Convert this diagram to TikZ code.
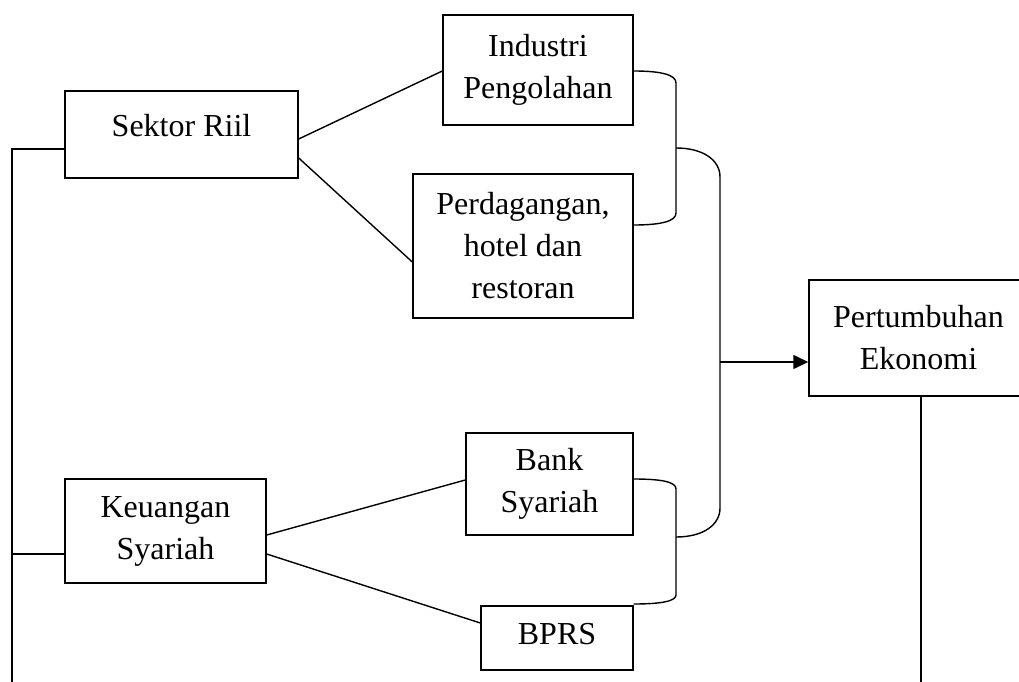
\documentclass[tikz,border=0pt]{standalone}
\usepackage{fontspec}
\setmainfont{Liberation Serif}
\usetikzlibrary{arrows.meta,calc}
\begin{document}
\begin{tikzpicture}[x=1pt,y=-1pt,
  box/.style={draw, line width=1.4pt, align=center, inner sep=0pt, font=\fontsize{32}{42}\selectfont},
  conn/.style={line width=1.4pt},
  arr/.style={line width=1.4pt, -{Triangle[length=15pt,width=14pt]}}]
\useasboundingbox (0,0) rectangle (1019,682);
\clip (0,0) rectangle (1019,682);
\node[box, minimum width=233pt, minimum height=87pt] (sr) at (181.5,134.5) {\raisebox{19pt}{Sektor Riil}};
\node[box, minimum width=190pt, minimum height=110pt] (ip) at (538,70) {Industri\\Pengolahan};
\node[box, minimum width=220pt, minimum height=144pt] (ph) at (523,246) {Perdagangan,\\hotel dan\\restoran};
\node[box, minimum width=219pt, minimum height=116pt] (pe) at (918.5,338) {Pertumbuhan\\Ekonomi};
\node[box, minimum width=201pt, minimum height=104pt] (ks) at (165.5,531) {Keuangan\\Syariah};
\node[box, minimum width=167pt, minimum height=102pt] (bs) at (549.5,484) {Bank\\Syariah};
\node[box, minimum width=152pt, minimum height=64pt] (bp) at (557,638) {\raisebox{8pt}{BPRS}};
% branches
\draw[conn] ([yshift=-4.5pt]sr.east) -- ([yshift=-1pt]ip.west);
\draw[conn] ([yshift=-23.5pt]sr.east) -- ([yshift=-16pt]ph.west);
\draw[conn] ([yshift=-4pt]ks.east) -- ([yshift=4pt]bs.west);
\draw[conn] ([yshift=-23pt]ks.east) -- ([yshift=15pt]bp.west);
% junctions
\coordinate (j1) at (676,148);
\coordinate (j2) at (676,537);
\coordinate (j3) at (720,362);
% brackets
\draw[conn] ([yshift=-1pt]ip.east) .. controls (662,71) and (676,75) .. (676,83) -- (676,213) .. controls (676,221) and (662,225) .. ([yshift=21pt]ph.east);
\draw[conn] ([yshift=5pt]bs.east) .. controls (662,479) and (676,482) .. (676,489) -- (676,595) .. controls (676,601) and (662,604) .. ([yshift=34pt]bp.east);
\draw[conn] (j1) .. controls (703,148) and (720,160) .. (720,177) -- (720,508) .. controls (720,525) and (703,537) .. (j2);
\draw[arr] (j3) -- (j3 -| pe.west);
% outer lines
\coordinate (l1) at (12,149);
\coordinate (l2) at (12,554);
\coordinate (l3) at (12,690);
\draw[conn] ([yshift=-14.5pt]sr.west) -- (l1) -- (l3);
\draw[conn] (l2) -- ([yshift=-23pt]ks.west);
\coordinate (r1) at (921,690);
\draw[conn] ([xshift=2.5pt]pe.south) -- (r1);
\end{tikzpicture}
\end{document}
